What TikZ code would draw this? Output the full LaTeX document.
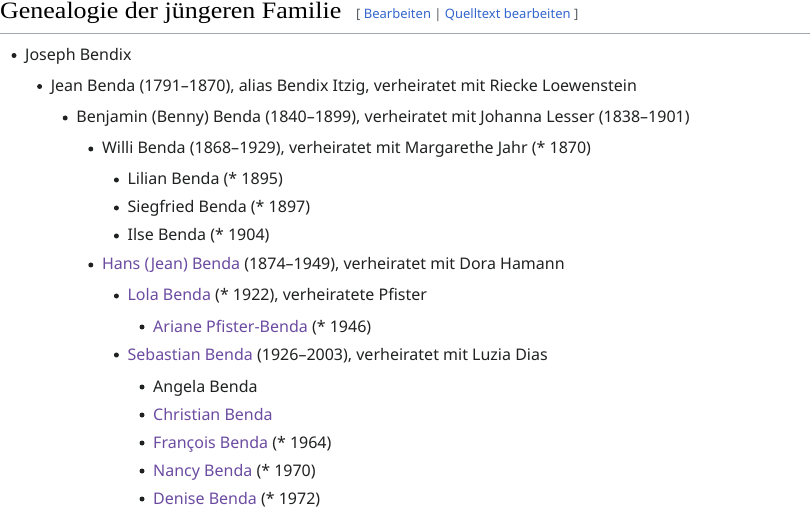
\documentclass[tikz,border=0pt]{standalone}
\usepackage{fontspec}
\setmainfont{Noto Sans}
\newfontfamily\headfont{Liberation Serif}
\definecolor{bodytext}{HTML}{202122}
\definecolor{visited}{HTML}{6B4BA1}
\definecolor{editlink}{HTML}{3366CC}
\definecolor{bracket}{HTML}{54595D}
\definecolor{rule}{HTML}{A2A9B1}
\tikzset{
  item/.style={anchor=base west, inner sep=0pt, text=bodytext, font=\fontsize{16}{19}\selectfont},
  dot/.style={circle, fill=bodytext, inner sep=0pt, minimum size=5pt},
}
\newcommand{\lnk}[1]{\textcolor{visited}{#1}}
\begin{document}
\begin{tikzpicture}[x=1pt,y=-1pt]
\useasboundingbox (0,0) rectangle (810,510);
\node[anchor=base west, inner sep=0pt, text=black, font=\headfont\fontsize{23.5}{28}\selectfont] (head) at (0,18.5) {\scalebox{1.105}[1]{Genealogie der jüngeren Familie}};
\node[anchor=base west, inner sep=0pt, font=\fontsize{13}{15}\selectfont] (edit) at (356,18.5) {\textcolor{bracket}{[} \textcolor{editlink}{Bearbeiten} \textcolor{bracket}{|} \textcolor{editlink}{Quelltext bearbeiten} \textcolor{bracket}{]}};
\coordinate (rl) at (0,34);
\coordinate (rr) at (810,34);
\draw[rule, line width=1pt] (rl) -- (rr);
\foreach \i/\lv/\y/\txt in {
 1/0/60.5/{Joseph Bendix},
 2/1/91.5/{Jean Benda (1791–1870), alias Bendix Itzig, verheiratet mit Riecke Loewenstein},
 3/2/123/{Benjamin (Benny) Benda (1840–1899), verheiratet mit Johanna Lesser (1838–1901)},
 4/3/154/{Willi Benda (1868–1929), verheiratet mit Margarethe Jahr (* 1870)},
 5/4/185/{Lilian Benda (* 1895)},
 6/4/213/{Siegfried Benda (* 1897)},
 7/4/241/{Ilse Benda (* 1904)},
 8/3/270/{\lnk{Hans (Jean) Benda} (1874–1949), verheiratet mit Dora Hamann},
 9/4/301/{\lnk{Lola Benda} (* 1922), verheiratete Pfister},
 10/5/332/{\lnk{Ariane Pfister-Benda} (* 1946)},
 11/4/360/{\lnk{Sebastian Benda} (1926–2003), verheiratet mit Luzia Dias},
 12/5/392/{Angela Benda},
 13/5/420/{\lnk{Christian Benda}},
 14/5/448/{\lnk{François Benda} (* 1964)},
 15/5/476/{\lnk{Nancy Benda} (* 1970)},
 16/5/504/{\lnk{Denise Benda} (* 1972)}}
{
  \node[dot] (b\i) at ({14+25.6*\lv},{\y-5}) {};
  \node[item] (n\i) at ({25+25.6*\lv},\y) {\txt};
}
\end{tikzpicture}
\end{document}
